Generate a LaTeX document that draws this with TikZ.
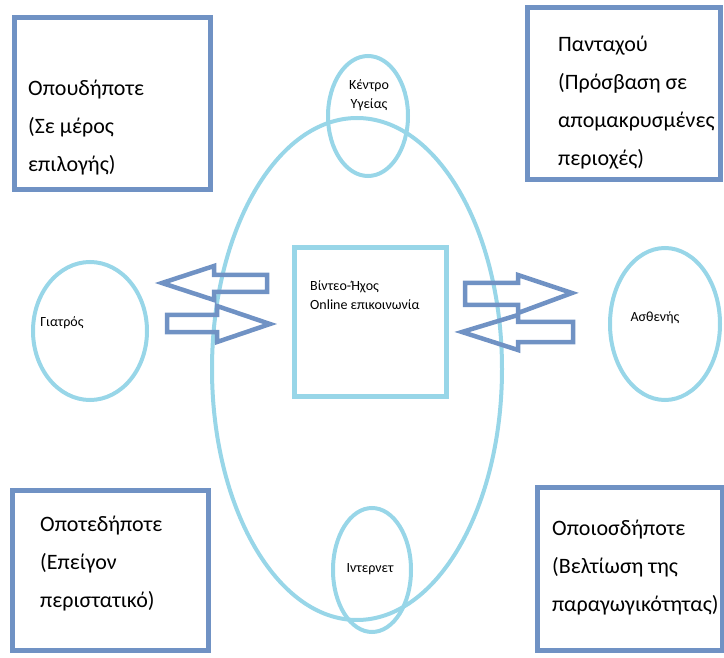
\documentclass[tikz,border=0pt]{standalone}
\usepackage{fontspec}
\setmainfont{Carlito}
\usetikzlibrary{shapes.geometric}
\definecolor{boxblue}{RGB}{112,146,196}
\definecolor{lightblue}{RGB}{152,214,232}
\begin{document}
\begin{tikzpicture}[x=1pt,y=-1pt,
  bbox/.style={draw=boxblue, line width=5pt, inner sep=0pt, rectangle},
  ring/.style={draw=lightblue, line width=4pt, ellipse, inner sep=0pt},
  btext/.style={inner sep=0pt, align=left, font=\fontsize{22}{38}\selectfont, anchor=north west},
  stext/.style={inner sep=0pt, font=\fontsize{14}{19}\selectfont},
  blockarrow/.style={draw=boxblue, line width=4.5pt, line join=miter}
]
\useasboundingbox (0,0) rectangle (724,658);
% big ellipse and small circles
\node[ring, minimum width=290pt, minimum height=502pt] (big) at (357,369) {};
\node[ring, minimum width=80pt, minimum height=120pt] (kentro) at (368,116) {};
\node[ring, minimum width=78pt, minimum height=124pt] (inter) at (372,570) {};
\node[ring, minimum width=114pt, minimum height=138pt] (doc) at (90,331) {};
\node[ring, minimum width=110pt, minimum height=152pt] (pat) at (665,324) {};
% center square
\node[draw=lightblue, line width=5pt, minimum width=152pt, minimum height=148pt, inner sep=0pt] (sq) at (370,322) {};
% corner boxes
\node[bbox, minimum width=196pt, minimum height=172pt] (tl) at (112,104) {};
\node[bbox, minimum width=193pt, minimum height=172pt] (tr) at (623.5,94) {};
\node[bbox, minimum width=196pt, minimum height=160pt] (bl) at (110,570) {};
\node[bbox, minimum width=185pt, minimum height=163pt] (br) at (629.5,568.5) {};
% corner texts
\node[btext] (tlt) at (28,80) {Οπουδήποτε\\(Σε μέρος\\επιλογής)};
\node[btext] (trt) at (558,36) {Πανταχού\\(Πρόσβαση σε\\απομακρυσμένες\\περιοχές)};
\node[btext] (blt) at (40,516) {Οποτεδήποτε\\(Επείγον\\περιστατικό)};
\node[btext] (brt) at (552,520) {Οποιοσδήποτε\\(Βελτίωση της\\παραγωγικότητας)};
% small texts
\node[stext] (doct) at (62,323) {Γιατρός};
\node[stext] (patt) at (655,318) {Ασθενής};
\node[stext, align=center] (kt) at (369,95) {Κέντρο\\Υγείας};
\node[stext] (it) at (370,569) {Ιντερνετ};
\node[stext, align=left, anchor=west] (sqt) at (310,295) {Βίντεο-Ήχος\\Online επικοινωνία};
% block arrows
\draw[blockarrow] (162,283) -- (214,266) -- (214,275) -- (267,275) -- (267,292) -- (214,292) -- (214,300) -- cycle;
\draw[blockarrow] (167,315) -- (217,315) -- (217,306) -- (270,324) -- (217,342) -- (217,332) -- (167,332) -- cycle;
\draw[blockarrow] (465,283) -- (518,283) -- (518,275) -- (572,293) -- (518,313) -- (518,305) -- (465,305) -- cycle;
\draw[blockarrow] (462,332) -- (518,315) -- (518,322) -- (573,322) -- (573,342) -- (518,342) -- (518,350) -- cycle;
\end{tikzpicture}
\end{document}
